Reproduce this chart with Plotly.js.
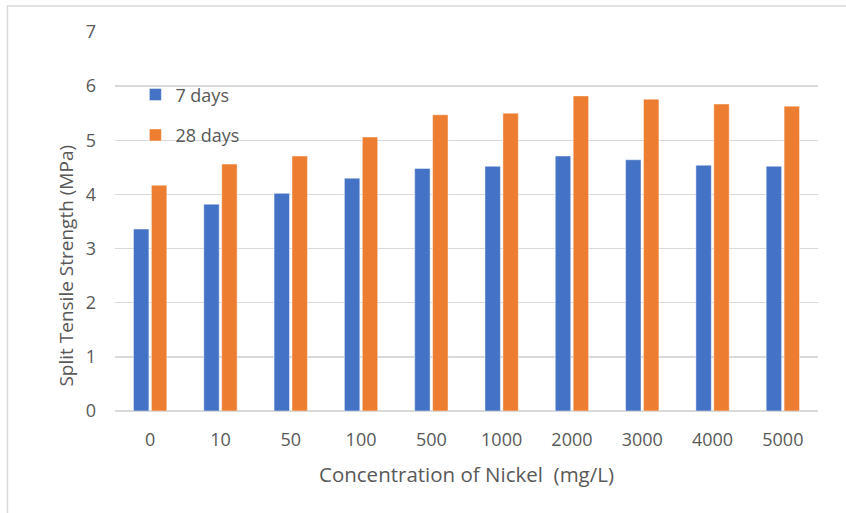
<!DOCTYPE html>
<html>
<head>
<meta charset="utf-8">
<script src="https://cdn.plot.ly/plotly-3.0.1.min.js"></script>
<style>html,body{margin:0;padding:0;background:#fff;}#chart{width:846px;height:513px;}</style>
</head>
<body>
<div id="chart"></div>
<script>
const categories = ["0", "10", "50", "100", "500", "1000", "2000", "3000", "4000", "5000"];
const days7 = [3.36, 3.82, 4.02, 4.30, 4.48, 4.52, 4.71, 4.64, 4.54, 4.52];
const days28 = [4.17, 4.56, 4.71, 5.06, 5.47, 5.50, 5.82, 5.76, 5.67, 5.63];
const seriesNames = ["7 days", "28 days"];
const yTicks = [0, 1, 2, 3, 4, 5, 6, 7];

const font = "Open Sans, Liberation Sans, sans-serif";
const grey = "#595959";

const traces = [
  {
    type: "bar", x: categories, y: days7, name: seriesNames[0], legendgroup: "a",
    marker: {color: "#4472C4", line: {color: "rgba(255,255,255,0.45)", width: 1}},
    hoverinfo: "none"
  },
  {
    type: "bar", x: categories, y: days28, name: seriesNames[1], legendgroup: "b",
    marker: {color: "#ED7D31", line: {color: "rgba(255,255,255,0.45)", width: 1}},
    hoverinfo: "none"
  }
];

const layout = {
  width: 846, height: 513,
  margin: {l: 115, r: 28, t: 32, b: 102},
  paper_bgcolor: "#fff", plot_bgcolor: "#fff",
  font: {family: font, color: grey, size: 18},
  barmode: "group",
  bargap: 0.49,
  bargroupgap: 0.14,
  showlegend: true,
  legend: {
    x: 0.029, y: 0.883, xanchor: "left", yanchor: "top",
    bgcolor: "rgba(0,0,0,0)",
    font: {family: font, size: 18, color: grey},
    traceorder: "grouped", tracegroupgap: 14
  },
  xaxis: {
    type: "category",
    showgrid: false, zeroline: false, showline: false,
    ticks: "", ticklabelstandoff: 16,
    tickfont: {family: font, size: 18, color: grey},
    title: {text: "Concentration of Nickel \u00a0(mg/L)", font: {family: font, size: 20.5, color: grey}, standoff: 17}
  },
  yaxis: {
    range: [0, 7],
    tickvals: yTicks,
    showgrid: true, gridcolor: "#d9d9d9", gridwidth: 1.3,
    zeroline: true, zerolinecolor: "#d9d9d9", zerolinewidth: 1.3,
    showline: false, ticks: "", ticklabelstandoff: 18,
    tickfont: {family: font, size: 18, color: grey}
  },
  annotations: [
    {
      text: "Split Tensile Strength (MPa)", textangle: -90,
      xref: "paper", yref: "paper", x: -0.069, y: 0.385,
      xanchor: "center", yanchor: "middle", showarrow: false,
      font: {family: font, size: 19, color: grey}
    }
  ],
  shapes: [
    {
      type: "rect", xref: "paper", yref: "paper",
      x0: -0.153, x1: 1.06, y0: -0.3, y1: 1.0686,
      line: {color: "#d9d9d9", width: 1.5}, fillcolor: "rgba(0,0,0,0)", layer: "below"
    }
  ]
};

Plotly.newPlot("chart", traces, layout, {staticPlot: true, displayModeBar: false});
</script>
</body>
</html>
